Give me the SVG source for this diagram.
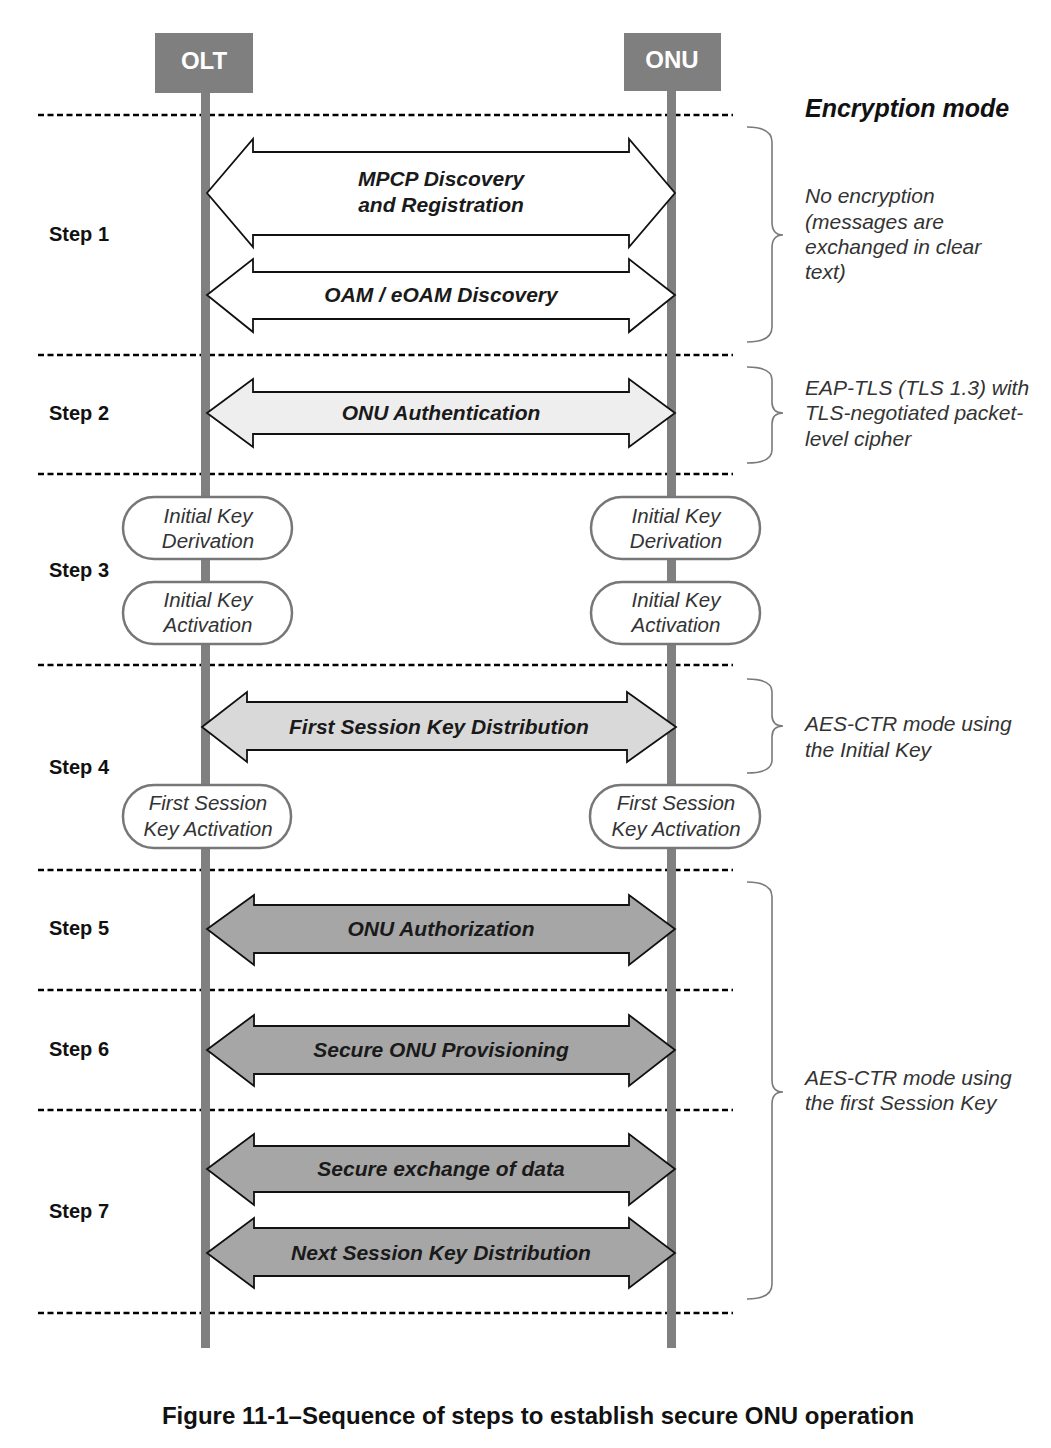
<svg xmlns="http://www.w3.org/2000/svg" width="1051" height="1448" viewBox="0 0 1051 1448">
<style>
.dash{stroke:#000;stroke-width:2.5;stroke-dasharray:6 3.5;fill:none}
.life{fill:#808080}
.hdr{fill:#7f7f7f}
.hdrt{font-family:"Liberation Sans",Arial,sans-serif;font-weight:bold;font-size:24px;fill:#fff;text-anchor:middle}
.step{font-family:"Liberation Sans",Arial,sans-serif;font-weight:bold;font-size:20px;fill:#111}
.arr{stroke:#111;stroke-width:1.8;stroke-linejoin:miter}
.alab{font-family:"Liberation Sans",Arial,sans-serif;font-weight:bold;font-style:italic;font-size:21px;fill:#1a1a1a;text-anchor:middle}
.pill{fill:#fff;stroke:#777;stroke-width:2.5}
.ptxt{font-family:"Liberation Sans",Arial,sans-serif;font-style:italic;font-size:20.5px;fill:#333;text-anchor:middle}
.brace{fill:none;stroke:#7a7a7a;stroke-width:1.6}
.note{font-family:"Liberation Sans",Arial,sans-serif;font-style:italic;font-size:21px;fill:#333}
.title{font-family:"Liberation Sans",Arial,sans-serif;font-style:italic;font-weight:bold;font-size:25px;fill:#111}
.cap{font-family:"Liberation Sans",Arial,sans-serif;font-weight:bold;font-size:24px;fill:#111;text-anchor:middle}
</style>

<g id="separators">
<line class="dash" x1="38" y1="115" x2="733" y2="115"/>
<line class="dash" x1="38" y1="355" x2="733" y2="355"/>
<line class="dash" x1="38" y1="474" x2="733" y2="474"/>
<line class="dash" x1="38" y1="665" x2="733" y2="665"/>
<line class="dash" x1="38" y1="870" x2="733" y2="870"/>
<line class="dash" x1="38" y1="990" x2="733" y2="990"/>
<line class="dash" x1="38" y1="1110" x2="733" y2="1110"/>
<line class="dash" x1="38" y1="1313" x2="733" y2="1313"/>
</g>

<g id="OLT">
<rect class="life" x="201" y="90" width="9" height="1258"/>
<rect class="hdr" x="155" y="33" width="98" height="60"/>
<text class="hdrt" x="204" y="69">OLT</text>
</g>
<g id="ONU">
<rect class="life" x="667" y="88" width="9" height="1260"/>
<rect class="hdr" x="624" y="33" width="97" height="58"/>
<text class="hdrt" x="672" y="68">ONU</text>
</g>

<g id="step-labels">
<text class="step" x="49" y="241">Step 1</text>
<text class="step" x="49" y="420">Step 2</text>
<text class="step" x="49" y="577">Step 3</text>
<text class="step" x="49" y="774">Step 4</text>
<text class="step" x="49" y="935">Step 5</text>
<text class="step" x="49" y="1056">Step 6</text>
<text class="step" x="49" y="1218">Step 7</text>
</g>

<g id="connectors">
<g id="mpcp">
<path class="arr" fill="#fff" d="M207,193 L253,139 L253,152 L629,152 L629,139 L675,193 L629,247 L629,235 L253,235 L253,247 Z"/>
<text class="alab" x="441" y="186">MPCP Discovery</text>
<text class="alab" x="441" y="212">and Registration</text>
</g>
<g id="oam">
<path class="arr" fill="#fff" d="M207,295 L253,259 L253,272 L629,272 L629,259 L675,295 L629,332 L629,319 L253,319 L253,332 Z"/>
<text class="alab" x="441" y="302">OAM / eOAM Discovery</text>
</g>
<g id="auth">
<path class="arr" fill="#eeeeee" d="M207,413 L253,379 L253,392 L629,392 L629,379 L675,413 L629,447 L629,434 L253,434 L253,447 Z"/>
<text class="alab" x="441" y="420">ONU Authentication</text>
</g>
<g id="fskd">
<path class="arr" fill="#d9d9d9" d="M202,727 L247,692 L247,702 L627,702 L627,692 L676,727 L627,762 L627,750 L247,750 L247,762 Z"/>
<text class="alab" x="439" y="734">First Session Key Distribution</text>
</g>
<g id="authz">
<path class="arr" fill="#a6a6a6" d="M207,929 L254,895 L254,905 L629,905 L629,895 L675,929 L629,965 L629,953 L254,953 L254,965 Z"/>
<text class="alab" x="441" y="936">ONU Authorization</text>
</g>
<g id="prov">
<path class="arr" fill="#a6a6a6" d="M207,1050 L254,1015 L254,1026 L629,1026 L629,1015 L675,1050 L629,1086 L629,1074 L254,1074 L254,1086 Z"/>
<text class="alab" x="441" y="1057">Secure ONU Provisioning</text>
</g>
<g id="data">
<path class="arr" fill="#a6a6a6" d="M207,1169 L254,1134 L254,1146 L629,1146 L629,1134 L675,1169 L629,1205 L629,1192 L254,1192 L254,1205 Z"/>
<text class="alab" x="441" y="1176">Secure exchange of data</text>
</g>
<g id="nskd">
<path class="arr" fill="#a6a6a6" d="M207,1253 L254,1218 L254,1228 L629,1228 L629,1218 L675,1253 L629,1288 L629,1276 L254,1276 L254,1288 Z"/>
<text class="alab" x="441" y="1260">Next Session Key Distribution</text>
</g>
</g>

<g id="olt-ikd">
<rect class="pill" x="123" y="497" width="169" height="62" rx="31"/>
<text class="ptxt" x="208" y="523">Initial Key</text>
<text class="ptxt" x="208" y="548">Derivation</text>
</g>
<g id="olt-ika">
<rect class="pill" x="123" y="582" width="169" height="62" rx="31"/>
<text class="ptxt" x="208" y="607">Initial Key</text>
<text class="ptxt" x="208" y="632">Activation</text>
</g>
<g id="onu-ikd">
<rect class="pill" x="591" y="497" width="169" height="62" rx="31"/>
<text class="ptxt" x="676" y="523">Initial Key</text>
<text class="ptxt" x="676" y="548">Derivation</text>
</g>
<g id="onu-ika">
<rect class="pill" x="591" y="582" width="169" height="62" rx="31"/>
<text class="ptxt" x="676" y="607">Initial Key</text>
<text class="ptxt" x="676" y="632">Activation</text>
</g>
<g id="olt-fska">
<rect class="pill" x="123" y="785" width="168" height="63" rx="31"/>
<text class="ptxt" x="208" y="810">First Session</text>
<text class="ptxt" x="208" y="836">Key Activation</text>
</g>
<g id="onu-fska">
<rect class="pill" x="590" y="785" width="170" height="63" rx="31"/>
<text class="ptxt" x="676" y="810">First Session</text>
<text class="ptxt" x="676" y="836">Key Activation</text>
</g>

<g id="encryption-mode">
<text class="title" x="805" y="117">Encryption mode</text>
<path class="brace" d="M747,127 Q772,127 772,142 L772,222 Q772,235 783,235 Q772,235 772,248 L772,327 Q772,342 747,342"/>
<text class="note" x="805" y="203">No encryption</text>
<text class="note" x="805" y="229">(messages are</text>
<text class="note" x="805" y="254">exchanged in clear</text>
<text class="note" x="805" y="279">text)</text>
<path class="brace" d="M747,367 Q772,367 772,380 L772,402 Q772,413 783,413 Q772,413 772,424 L772,450 Q772,463 747,463"/>
<text class="note" x="805" y="395">EAP-TLS (TLS 1.3) with</text>
<text class="note" x="805" y="420">TLS-negotiated packet-</text>
<text class="note" x="805" y="446">level cipher</text>
<path class="brace" d="M747,679 Q772,679 772,692 L772,715 Q772,726 783,726 Q772,726 772,737 L772,760 Q772,773 747,773"/>
<text class="note" x="805" y="731">AES-CTR mode using</text>
<text class="note" x="805" y="757">the Initial Key</text>
<path class="brace" d="M747,882 Q772,882 772,897 L772,1080 Q772,1092 783,1092 Q772,1092 772,1104 L772,1284 Q772,1299 747,1299"/>
<text class="note" x="805" y="1085">AES-CTR mode using</text>
<text class="note" x="805" y="1110">the first Session Key</text>
</g>

<text class="cap" x="538" y="1424">Figure 11-1–Sequence of steps to establish secure ONU operation</text>
</svg>
